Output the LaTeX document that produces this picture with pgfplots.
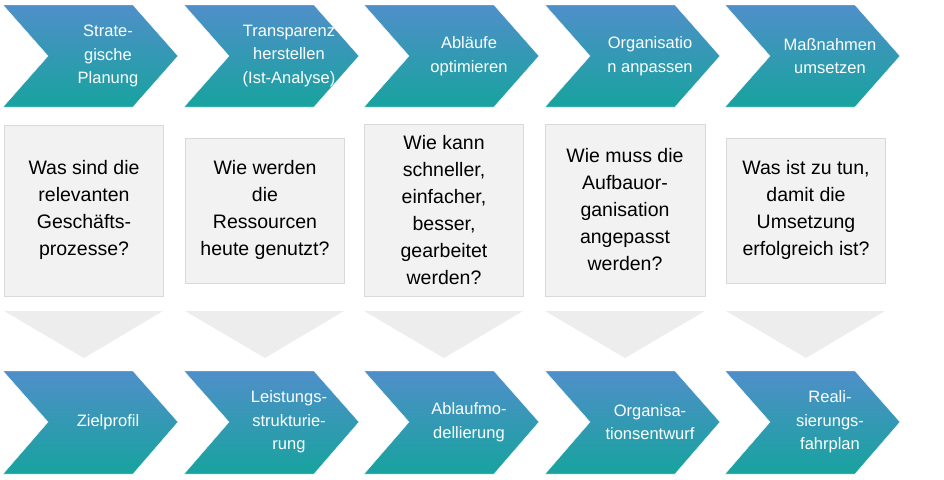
\documentclass[border=0pt]{standalone}
\usepackage{pgfplots}
\pgfplotsset{compat=1.18}
\usepackage{fontspec}
\setmainfont{Liberation Sans}
\definecolor{ctop}{HTML}{4F8FC9}
\definecolor{cbot}{HTML}{17A39E}
\definecolor{boxf}{HTML}{F2F2F2}
\definecolor{boxd}{HTML}{D9D9D9}
\definecolor{arrf}{HTML}{EDEDED}
\begin{document}
\begin{tikzpicture}
\begin{axis}[scale only axis, width=944pt, height=479pt, xmin=0, xmax=944, ymin=0, ymax=479,
  y dir=reverse, axis lines=none, clip=false]
\addplot[draw=none, forget plot] coordinates {(0,0)(944,479)};
% top chevrons
\addplot[top color=ctop, bottom color=cbot, draw=white] coordinates {(3,5)(133,5)(178,56)(133,107)(3,107)(48,56)(3,5)};
\addplot[top color=ctop, bottom color=cbot, draw=white] coordinates {(184,5)(314,5)(359,56)(314,107)(184,107)(229,56)(184,5)};
\addplot[top color=ctop, bottom color=cbot, draw=white] coordinates {(364,5)(494,5)(539,56)(494,107)(364,107)(409,56)(364,5)};
\addplot[top color=ctop, bottom color=cbot, draw=white] coordinates {(545,5)(675,5)(720,56)(675,107)(545,107)(590,56)(545,5)};
\addplot[top color=ctop, bottom color=cbot, draw=white] coordinates {(725,5)(855,5)(900,56)(855,107)(725,107)(770,56)(725,5)};
% bottom chevrons
\addplot[top color=ctop, bottom color=cbot, draw=white] coordinates {(3,371)(133,371)(178,422)(133,474)(3,474)(48,422)(3,371)};
\addplot[top color=ctop, bottom color=cbot, draw=white] coordinates {(184,371)(314,371)(359,422)(314,474)(184,474)(229,422)(184,371)};
\addplot[top color=ctop, bottom color=cbot, draw=white] coordinates {(364,371)(494,371)(539,422)(494,474)(364,474)(409,422)(364,371)};
\addplot[top color=ctop, bottom color=cbot, draw=white] coordinates {(545,371)(675,371)(720,422)(675,474)(545,474)(590,422)(545,371)};
\addplot[top color=ctop, bottom color=cbot, draw=white] coordinates {(725,371)(855,371)(900,422)(855,474)(725,474)(770,422)(725,371)};
% boxes
\addplot[fill=boxf, draw=boxd] coordinates {(4,125)(163,125)(163,296)(4,296)(4,125)};
\addplot[fill=boxf, draw=boxd] coordinates {(185,138)(344,138)(344,283)(185,283)(185,138)};
\addplot[fill=boxf, draw=boxd] coordinates {(364,124)(523,124)(523,296)(364,296)(364,124)};
\addplot[fill=boxf, draw=boxd] coordinates {(545,124)(705,124)(705,296)(545,296)(545,124)};
\addplot[fill=boxf, draw=boxd] coordinates {(726,138)(885,138)(885,283)(726,283)(726,138)};
% down arrows
\addplot[fill=arrf, draw=none] coordinates {(4,311)(163,311)(84,358)(4,311)};
\addplot[fill=arrf, draw=none] coordinates {(185,311)(344,311)(265,358)(185,311)};
\addplot[fill=arrf, draw=none] coordinates {(364,311)(523,311)(444,358)(364,311)};
\addplot[fill=arrf, draw=none] coordinates {(545,311)(705,311)(625,358)(545,311)};
\addplot[fill=arrf, draw=none] coordinates {(726,311)(885,311)(806,358)(726,311)};
% texts
\tikzset{wt/.style={text=white, align=center, font=\fontsize{16.5}{23.5}\selectfont},
         bt/.style={text=black, align=center, font=\fontsize{19.5}{27}\selectfont}}
\node[wt] at (axis cs:108,56) {Strate-\\gische\\Planung};
\node[wt] at (axis cs:289,56) {Transparenz\\herstellen\\(Ist-Analyse)};
\node[wt] at (axis cs:469,56) {Abläufe\\optimieren};
\node[wt] at (axis cs:650,56) {Organisatio\\n anpassen};
\node[wt] at (axis cs:830,56) {Maßnahmen\\umsetzen};
\node[bt] at (axis cs:84,210) {Was sind die\\relevanten\\Geschäfts-\\prozesse?};
\node[bt] at (axis cs:265,210) {Wie werden\\die\\Ressourcen\\heute genutzt?};
\node[bt] at (axis cs:444,210) {Wie kann\\schneller,\\einfacher,\\besser,\\gearbeitet\\werden?};
\node[bt] at (axis cs:625,210) {Wie muss die\\Aufbauor-\\ganisation\\angepasst\\werden?};
\node[bt] at (axis cs:806,210) {Was ist zu tun,\\damit die\\Umsetzung\\erfolgreich ist?};
\node[wt] at (axis cs:108,422) {Zielprofil};
\node[wt] at (axis cs:289,422) {Leistungs-\\strukturie-\\rung};
\node[wt] at (axis cs:469,422) {Ablaufmo-\\dellierung};
\node[wt] at (axis cs:650,422) {Organisa-\\tionsentwurf};
\node[wt] at (axis cs:830,422) {Reali-\\sierungs-\\fahrplan};
\end{axis}
\end{tikzpicture}
\end{document}
